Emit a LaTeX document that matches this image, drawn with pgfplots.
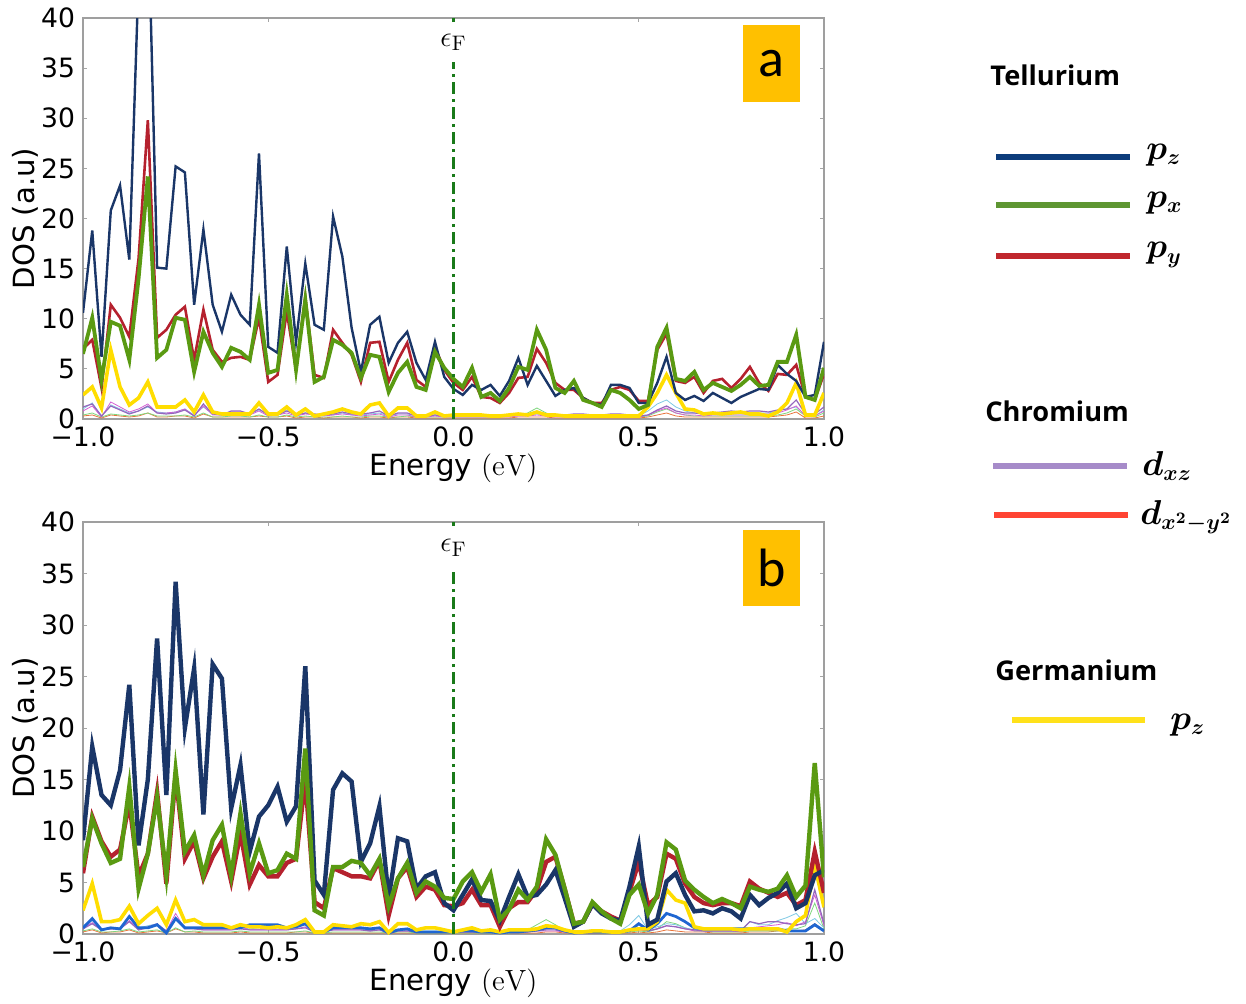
\documentclass[border=0pt]{standalone}
\usepackage{fontspec}
\usepackage{amsmath}
\usepackage{pgfplots}
\usepackage{pgfplotstable}
\pgfplotsset{compat=1.18}
\newfontfamily\dejavu{DejaVu Sans}
\newfontfamily\osans{Open Sans}
\newfontfamily\carlito{Carlito}

\definecolor{navyc}{HTML}{1A3668}
\definecolor{greenc}{HTML}{5A9A12}
\definecolor{redc}{HTML}{B5212E}
\definecolor{yellowc}{HTML}{FFDD00}
\definecolor{bluec}{HTML}{1F66D1}
\definecolor{purplec}{HTML}{9467BD}
\definecolor{lbluec}{HTML}{7EC8E3}
\definecolor{lgreenc}{HTML}{7FD67F}
\definecolor{magc}{HTML}{D45FD4}
\definecolor{orangec}{HTML}{E8743B}
\definecolor{fermic}{HTML}{1A7A1A}
\definecolor{amber}{HTML}{FFC000}
\definecolor{legnavy}{HTML}{0D3C7B}
\definecolor{leggreen}{HTML}{5E9632}
\definecolor{legred}{HTML}{C0272D}
\definecolor{legpurple}{HTML}{A68BC9}
\definecolor{legorange}{HTML}{FF4433}
\definecolor{legyellow}{HTML}{FFE11A}

\pgfplotstableread{
x n g r y p lb lg m o
-1.000 10.6 6.5 7.0 2.4 1.2 1.0 0.4 0.8 0.3
-0.975 18.8 10.1 7.9 3.2 1.5 1.6 0.6 1.3 0.4
-0.950 6.2 3.9 3.1 1.1 0.3 0.3 0.2 0.2 0.1
-0.925 20.8 9.7 11.4 6.9 1.3 1.4 0.5 1.7 0.4
-0.900 23.3 9.3 10.1 3.2 0.9 1.0 0.4 1.2 0.3
-0.875 15.9 5.9 8.2 1.4 0.5 0.6 0.3 0.7 0.2
-0.850 44.0 14.0 16.0 2.1 0.8 0.8 0.4 1.0 0.3
-0.825 52.0 24.2 29.8 3.7 1.3 1.2 0.6 1.5 0.6
-0.800 15.1 6.1 8.1 1.2 0.6 0.7 0.3 0.6 0.2
-0.775 15.0 6.9 8.9 1.2 0.5 0.6 0.3 0.6 0.2
-0.750 25.2 10.1 10.4 1.2 0.6 0.7 0.3 0.7 0.3
-0.725 24.6 9.9 11.2 1.9 0.9 1.0 0.4 1.0 0.3
-0.700 11.4 4.7 5.9 0.7 0.3 0.4 0.2 0.3 0.1
-0.675 18.9 8.7 10.9 2.4 1.5 1.2 0.6 1.3 0.5
-0.650 11.4 6.6 6.9 0.7 0.5 0.5 0.2 0.4 0.2
-0.625 8.7 5.2 5.7 0.5 0.4 0.5 0.2 0.4 0.2
-0.600 12.4 7.1 6.1 0.5 0.8 0.7 0.3 0.7 0.2
-0.575 10.4 6.7 6.2 0.5 0.8 0.6 0.3 0.7 0.2
-0.550 9.4 5.9 5.9 0.5 0.5 0.5 0.2 0.4 0.2
-0.525 26.5 11.4 10.1 1.6 1.0 0.9 0.4 0.8 0.3
-0.500 7.2 4.6 3.7 0.5 0.4 0.5 0.2 0.3 0.2
-0.475 6.6 4.9 4.4 0.5 0.4 0.5 0.2 0.4 0.2
-0.450 17.2 12.4 10.7 1.2 0.8 0.9 0.4 0.6 0.3
-0.425 7.7 4.9 4.9 0.4 0.4 0.4 0.2 0.3 0.1
-0.400 15.5 11.9 12.2 1.0 0.6 0.6 0.3 0.5 0.2
-0.375 9.4 3.7 4.4 0.3 0.5 0.4 0.2 0.4 0.2
-0.350 8.9 4.2 4.1 0.5 0.4 0.4 0.2 0.3 0.1
-0.325 20.2 7.9 8.9 0.7 0.5 0.4 0.2 0.4 0.2
-0.300 16.2 7.4 7.6 1.0 0.7 0.6 0.3 0.5 0.2
-0.275 9.1 6.6 6.4 0.7 0.5 0.4 0.2 0.4 0.2
-0.250 4.7 4.1 3.7 0.5 0.5 0.4 0.2 0.3 0.1
-0.225 9.4 6.4 7.6 1.4 0.6 0.5 0.3 0.4 0.2
-0.200 10.2 6.2 7.7 1.6 0.8 0.6 0.3 0.5 0.2
-0.175 5.6 2.7 3.7 0.3 0.3 0.3 0.2 0.2 0.1
-0.150 7.6 4.6 5.9 1.1 0.6 0.5 0.2 0.4 0.2
-0.125 8.7 5.7 7.6 1.1 0.6 0.5 0.3 0.4 0.2
-0.100 5.6 3.2 3.9 0.3 0.3 0.3 0.2 0.2 0.1
-0.075 3.9 2.9 3.2 0.3 0.3 0.3 0.2 0.2 0.1
-0.050 7.7 6.7 7.2 0.7 0.4 0.4 0.2 0.3 0.1
-0.025 4.2 5.1 4.9 0.3 0.3 0.3 0.2 0.2 0.1
0.000 3.0 4.0 3.6 0.4 0.3 0.3 0.2 0.2 0.1
0.025 2.4 3.2 2.9 0.4 0.3 0.3 0.2 0.2 0.1
0.050 3.4 5.1 4.2 0.4 0.3 0.3 0.2 0.2 0.1
0.075 2.9 2.2 2.2 0.4 0.4 0.3 0.2 0.2 0.1
0.100 3.4 2.6 2.1 0.3 0.3 0.3 0.2 0.2 0.1
0.125 2.3 1.8 1.6 0.3 0.3 0.3 0.2 0.2 0.1
0.150 3.8 3.1 2.6 0.4 0.4 0.3 0.3 0.2 0.1
0.175 6.1 5.2 4.1 0.5 0.5 0.4 0.4 0.3 0.2
0.200 3.4 4.9 4.2 0.4 0.5 0.4 0.6 0.3 0.2
0.225 5.3 8.9 7.0 0.7 0.6 0.5 1.1 0.4 0.2
0.250 3.8 6.9 5.6 0.4 0.5 0.4 0.6 0.3 0.2
0.275 2.3 3.1 3.6 0.4 0.4 0.3 0.3 0.2 0.1
0.300 2.9 2.6 2.9 0.3 0.4 0.3 0.2 0.2 0.1
0.325 3.1 3.8 2.9 0.3 0.5 0.3 0.2 0.2 0.1
0.350 2.1 1.9 2.1 0.3 0.5 0.3 0.2 0.2 0.1
0.375 1.6 1.6 1.6 0.3 0.4 0.3 0.2 0.2 0.1
0.400 1.4 1.2 1.6 0.3 0.4 0.3 0.2 0.2 0.1
0.425 3.4 2.9 2.9 0.3 0.5 0.3 0.2 0.2 0.1
0.450 3.4 2.6 3.2 0.3 0.5 0.3 0.2 0.2 0.1
0.475 3.1 1.9 2.9 0.3 0.4 0.3 0.2 0.2 0.1
0.500 1.6 1.0 1.8 0.3 0.3 0.3 0.2 0.2 0.1
0.525 1.6 1.4 1.8 1.2 0.4 0.8 0.3 0.4 0.2
0.550 3.6 7.2 6.9 2.6 0.9 1.5 0.7 0.8 0.4
0.575 6.2 9.1 8.5 4.4 1.3 1.9 1.0 1.1 0.6
0.600 2.6 4.0 3.8 2.6 0.8 1.2 0.6 0.6 0.3
0.625 1.9 3.8 3.6 1.0 0.6 0.8 0.4 0.4 0.2
0.650 2.3 4.7 4.2 0.9 0.6 0.6 0.3 0.4 0.2
0.675 1.8 2.9 2.6 0.5 0.5 0.5 0.3 0.3 0.2
0.700 2.6 3.6 3.8 0.6 0.6 0.5 0.3 0.4 0.2
0.725 2.1 3.2 4.0 0.5 0.7 0.5 0.3 0.4 0.2
0.750 1.6 2.8 3.1 0.6 0.8 0.5 0.3 0.4 0.2
0.775 2.2 3.4 4.0 0.7 0.7 0.5 0.3 0.4 0.2
0.800 2.6 4.2 5.2 0.5 0.8 0.5 0.3 0.4 0.2
0.825 3.0 3.3 3.6 0.5 0.8 0.6 0.3 0.5 0.2
0.850 2.9 3.4 2.8 0.3 0.7 0.6 0.3 0.5 0.2
0.875 5.4 5.7 4.5 0.7 0.9 0.8 0.4 0.6 0.3
0.900 4.5 5.7 4.4 1.6 1.0 1.0 0.6 0.9 0.4
0.925 3.8 8.4 5.4 3.6 1.9 1.2 1.0 1.3 0.7
0.950 2.2 2.2 2.2 0.4 0.5 0.4 0.3 0.3 0.1
0.975 2.4 1.9 1.9 0.4 0.5 0.3 0.2 0.3 0.1
1.000 7.7 5.1 4.5 2.6 1.2 0.9 0.6 0.8 0.3
}\toptab

\pgfplotstableread{
x n g r y b p lb lg m o
-1.000 9.1 6.5 5.9 2.3 0.6 0.5 0.8 0.3 0.6 0.2
-0.975 18.2 11.2 11.4 4.9 1.5 1.0 1.3 0.5 1.1 0.4
-0.950 13.5 8.8 9.0 1.2 0.4 0.4 0.5 0.2 0.4 0.1
-0.925 12.5 6.9 7.5 1.2 0.6 0.5 0.6 0.2 0.5 0.2
-0.900 15.9 7.3 8.2 1.4 0.5 0.5 0.6 0.3 0.5 0.2
-0.875 24.2 14.3 12.7 2.7 1.7 1.2 1.8 0.5 1.3 0.4
-0.850 8.6 4.4 5.6 1.0 0.6 0.4 0.6 0.2 0.4 0.1
-0.825 15.0 7.8 7.8 1.8 0.6 0.6 0.8 0.3 0.7 0.2
-0.800 28.7 13.3 13.8 2.5 0.9 0.9 1.0 0.4 1.0 0.3
-0.775 13.5 5.7 4.9 0.9 0.1 0.3 0.3 0.1 0.3 0.1
-0.750 34.2 15.9 15.4 3.3 1.5 1.6 1.4 0.6 2.0 0.5
-0.725 20.0 8.0 7.3 1.2 0.6 0.5 0.6 0.2 0.5 0.2
-0.700 25.8 9.6 9.0 1.4 0.6 0.5 0.6 0.3 0.6 0.2
-0.675 11.6 5.7 5.4 0.9 0.6 0.4 0.5 0.2 0.4 0.1
-0.650 26.2 9.1 7.5 0.9 0.6 0.4 0.5 0.2 0.4 0.1
-0.625 24.8 10.6 9.0 0.9 0.6 0.4 0.5 0.2 0.4 0.1
-0.600 12.2 5.7 5.1 0.6 0.6 0.4 0.5 0.2 0.4 0.1
-0.575 16.4 11.7 9.8 0.9 0.6 0.5 0.6 0.3 0.7 0.2
-0.550 8.0 5.9 4.8 0.7 0.9 0.4 0.5 0.2 0.4 0.1
-0.525 11.4 8.8 6.7 0.7 0.9 0.4 0.6 0.2 0.4 0.1
-0.500 12.5 5.9 5.6 0.6 0.9 0.4 0.6 0.2 0.4 0.1
-0.475 14.3 6.2 5.6 0.7 0.9 0.4 0.6 0.2 0.4 0.1
-0.450 10.9 7.8 6.9 0.6 0.6 0.4 0.5 0.2 0.4 0.1
-0.425 12.4 7.3 7.3 0.9 0.7 0.5 0.6 0.2 0.5 0.2
-0.400 26.0 18.0 15.0 1.4 1.0 0.6 0.9 0.3 0.7 0.2
-0.375 5.2 2.3 3.1 0.2 0.2 0.2 0.2 0.1 0.2 0.1
-0.350 3.8 1.8 2.5 0.2 0.2 0.2 0.2 0.1 0.2 0.1
-0.325 14.0 6.5 6.4 0.9 0.6 0.4 0.5 0.2 0.4 0.1
-0.300 15.6 6.5 6.0 0.8 0.6 0.4 0.5 0.2 0.4 0.1
-0.275 14.8 7.1 5.6 0.7 0.6 0.4 0.5 0.2 0.4 0.1
-0.250 7.0 6.9 5.6 1.0 0.6 0.4 0.5 0.2 0.4 0.1
-0.225 8.8 5.7 5.4 0.9 0.5 0.3 0.4 0.2 0.3 0.1
-0.200 12.4 7.3 7.1 1.2 0.6 0.4 0.6 0.2 0.4 0.1
-0.175 3.5 2.7 1.8 0.15 0.1 0.1 0.2 0.1 0.1 0.1
-0.150 9.3 5.4 5.4 1.0 0.4 0.3 0.4 0.2 0.3 0.1
-0.125 9.0 6.9 6.5 1.0 0.5 0.3 0.4 0.2 0.3 0.1
-0.100 4.4 4.0 3.6 0.4 0.2 0.2 0.3 0.1 0.2 0.1
-0.075 5.6 5.1 4.6 0.6 0.2 0.2 0.3 0.1 0.2 0.1
-0.050 6.0 4.6 4.3 0.6 0.2 0.2 0.3 0.1 0.2 0.1
-0.025 3.0 3.5 2.8 0.4 0.2 0.2 0.2 0.1 0.2 0.1
0.000 2.3 3.4 2.7 0.2 0.2 0.2 0.2 0.1 0.2 0.1
0.025 3.8 5.1 3.0 0.4 0.3 0.2 0.2 0.1 0.2 0.1
0.050 5.3 6.0 4.3 0.6 0.3 0.2 0.3 0.1 0.2 0.1
0.075 3.3 4.1 2.8 0.3 0.2 0.2 0.2 0.1 0.2 0.1
0.100 3.2 5.8 2.8 0.4 0.2 0.2 0.2 0.1 0.2 0.1
0.125 1.3 1.4 0.7 0.2 0.1 0.1 0.1 0.1 0.1 0.1
0.150 3.6 2.4 2.5 0.4 0.2 0.2 0.2 0.1 0.2 0.1
0.175 5.8 4.3 3.1 0.4 0.2 0.2 0.3 0.2 0.2 0.1
0.200 3.6 3.3 3.1 0.4 0.3 0.2 0.3 0.4 0.2 0.1
0.225 3.8 4.6 4.3 0.5 0.4 0.3 0.4 0.9 0.3 0.1
0.250 4.8 9.2 7.0 0.8 0.6 0.4 0.5 1.4 0.3 0.2
0.275 6.2 7.7 7.5 0.7 0.6 0.4 0.5 0.9 0.3 0.2
0.300 3.5 4.4 4.4 0.4 0.3 0.2 0.3 0.3 0.2 0.1
0.325 0.7 1.0 1.0 0.2 0.1 0.1 0.1 0.1 0.1 0.1
0.350 1.2 1.2 1.2 0.2 0.2 0.2 0.2 0.1 0.2 0.1
0.375 2.9 3.1 2.9 0.3 0.2 0.4 0.3 0.2 0.3 0.1
0.400 2.0 2.2 2.2 0.3 0.2 0.3 0.2 0.1 0.2 0.1
0.425 1.5 1.5 1.7 0.2 0.2 0.2 0.2 0.1 0.2 0.1
0.450 1.3 1.0 1.3 0.2 0.2 0.2 0.3 0.1 0.2 0.1
0.475 4.6 3.8 4.1 0.4 0.3 0.3 0.9 0.2 0.3 0.1
0.500 8.5 4.8 7.0 0.5 1.0 0.5 1.8 0.3 0.4 0.2
0.525 0.9 2.0 2.8 0.5 0.4 0.3 0.4 0.2 0.3 0.1
0.550 1.4 3.8 3.6 1.2 1.0 0.5 0.7 0.5 0.5 0.2
0.575 5.1 8.9 7.8 4.3 2.0 0.8 1.0 1.2 0.8 0.4
0.600 5.9 8.2 7.3 3.3 1.7 0.7 0.9 1.0 0.7 0.3
0.625 3.8 5.2 4.9 3.0 1.2 0.5 0.6 0.6 0.5 0.2
0.650 2.2 4.3 3.6 0.7 0.6 0.4 0.4 0.3 0.3 0.2
0.675 2.3 3.6 3.0 0.5 0.5 0.3 0.4 0.3 0.3 0.2
0.700 2.0 3.0 2.8 0.5 0.5 0.3 0.4 0.2 0.3 0.1
0.725 2.5 3.4 3.0 0.5 0.5 0.3 0.4 0.2 0.3 0.1
0.750 2.2 3.0 3.0 0.5 0.5 0.3 0.4 0.2 0.3 0.1
0.775 1.5 2.5 2.7 0.4 0.5 0.3 0.3 0.2 0.2 0.1
0.800 3.8 4.6 5.1 0.5 0.5 1.2 1.2 0.3 0.6 0.2
0.825 2.8 4.3 4.4 0.5 0.5 1.0 0.9 0.3 0.7 0.2
0.850 3.5 4.1 4.0 0.5 0.5 1.2 0.9 0.3 0.8 0.2
0.875 4.0 4.4 3.6 0.5 0.5 1.2 1.3 0.3 0.9 0.3
0.900 4.9 5.7 4.0 0.2 0.3 1.0 1.6 0.5 1.1 0.3
0.925 2.5 3.6 2.8 1.2 0.3 0.9 2.0 0.5 0.8 0.3
0.950 3.0 4.7 3.3 1.8 0.3 1.0 1.0 0.8 1.2 0.4
0.975 5.7 16.6 8.0 6.7 0.9 4.3 1.5 3.0 3.8 1.0
1.000 6.2 5.5 4.0 2.6 0.3 1.0 0.6 0.5 0.8 0.3
}\bottab

\pgfplotsset{
  dosaxis/.style={
    anchor=south west, scale only axis,
    width=370.5pt,
    xmin=-1, xmax=1, ymin=0, ymax=40,
    xtick={-1,-0.5,0,0.5,1},
    xticklabels={−1.0,−0.5,0.0,0.5,1.0},
    ytick={0,5,10,15,20,25,30,35,40},
    yticklabels={0,5,10,15,20,25,30,35,40},
    tick align=inside,
    major tick length=2.2pt,
    tick style={draw=gray!70, line width=0.5pt},
    axis line style={draw=gray!75, line width=0.7pt},
    ticklabel style={font=\dejavu\fontsize{13.3}{13.3}\selectfont},
    xticklabel style={yshift=-0.5pt},
    yticklabel style={xshift=-0.5pt},
    xlabel={Energy $(\mathrm{eV})$},
    ylabel={DOS (a.u)},
    label style={font=\dejavu\fontsize{14.6}{15}\selectfont},
    xlabel style={at={(axis description cs:0.5,0)}, anchor=center, yshift=-24.5pt},
    ylabel style={at={([xshift=-29pt]axis description cs:0,0.5)}, anchor=center},
    clip=true,
  },
  thin/.style={line width=0.4pt},
  fermi/.style={color=fermic, line width=1.5pt, dash pattern=on 6pt off 2.5pt on 1.5pt off 2.5pt},
}

\begin{document}
\begin{tikzpicture}
\path[use as bounding box] (0,0) rectangle (623pt,501.5pt);

% ---------- panel a ----------
\begin{axis}[dosaxis, at={(41.5pt,292pt)}, height=200.5pt]
\addplot[thin, orangec] table[x=x,y=o] {\toptab};
\addplot[thin, lgreenc] table[x=x,y=lg] {\toptab};
\addplot[thin, lbluec] table[x=x,y=lb] {\toptab};
\addplot[thin, magc] table[x=x,y=m] {\toptab};
\addplot[thin, purplec, line width=0.6pt] table[x=x,y=p] {\toptab};
\addplot[yellowc, line width=1.8pt] table[x=x,y=y] {\toptab};
\addplot[redc, line width=1.3pt] table[x=x,y=r] {\toptab};
\addplot[navyc, line width=1.2pt] table[x=x,y=n] {\toptab};
\addplot[greenc, line width=1.9pt] table[x=x,y=g] {\toptab};
\addplot[fermi] coordinates {(0,0) (0,35.6)};
\addplot[fermi] coordinates {(0,39.6) (0,40)};
\node[font=\fontsize{15}{15}\selectfont] at (axis cs:0,37.6) {$\epsilon_{\mathrm{F}}$};
\node[fill=amber, minimum width=28.5pt, minimum height=38.5pt, inner sep=0pt,
      font=\carlito\fontsize{27}{27}\selectfont] at (axis cs:0.858,35.45) {a};
\end{axis}

% ---------- panel b ----------
\begin{axis}[dosaxis, at={(41.5pt,34.5pt)}, height=206pt]
\addplot[thin, orangec] table[x=x,y=o] {\bottab};
\addplot[thin, lgreenc] table[x=x,y=lg] {\bottab};
\addplot[thin, lbluec] table[x=x,y=lb] {\bottab};
\addplot[thin, magc] table[x=x,y=m] {\bottab};
\addplot[thin, purplec, line width=0.6pt] table[x=x,y=p] {\bottab};
\addplot[bluec, line width=1.4pt] table[x=x,y=b] {\bottab};
\addplot[yellowc, line width=1.8pt] table[x=x,y=y] {\bottab};
\addplot[redc, line width=2.2pt] table[x=x,y=r] {\bottab};
\addplot[navyc, line width=2.2pt] table[x=x,y=n] {\bottab};
\addplot[greenc, line width=2.2pt] table[x=x,y=g] {\bottab};
\addplot[fermi] coordinates {(0,0) (0,35.3)};
\addplot[fermi] coordinates {(0,39.6) (0,40)};
\node[font=\fontsize{15}{15}\selectfont] at (axis cs:0,37.5) {$\epsilon_{\mathrm{F}}$};
\node[fill=amber, minimum width=28.5pt, minimum height=38pt, inner sep=0pt,
      font=\carlito\fontsize{27}{27}\selectfont] at (axis cs:0.858,35.5) {b};
\end{axis}

% ---------- legend ----------
\node[anchor=west, inner sep=0pt, font=\osans\bfseries\fontsize{13.6}{14}\selectfont] at (495pt,464pt) {Tellurium};
\draw[legnavy, line width=2.8pt] (498pt,423pt) -- (565pt,423pt);
\node[anchor=west, inner sep=0pt, font=\fontsize{16}{16}\selectfont] at (573pt,424pt) {$\boldsymbol{p_z}$};
\draw[leggreen, line width=2.8pt] (498pt,399pt) -- (565pt,399pt);
\node[anchor=west, inner sep=0pt, font=\fontsize{16}{16}\selectfont] at (573pt,400pt) {$\boldsymbol{p_x}$};
\draw[legred, line width=2.8pt] (498pt,373.5pt) -- (565pt,373.5pt);
\node[anchor=west, inner sep=0pt, font=\fontsize{16}{16}\selectfont] at (573pt,374pt) {$\boldsymbol{p_y}$};

\node[anchor=west, inner sep=0pt, font=\osans\bfseries\fontsize{13.6}{14}\selectfont] at (492.5pt,296pt) {Chromium};
\draw[legpurple, line width=2.8pt] (496.5pt,268.5pt) -- (563.5pt,268.5pt);
\node[anchor=west, inner sep=0pt, font=\fontsize{16}{16}\selectfont] at (571pt,268.5pt) {$\boldsymbol{d_{xz}}$};
\draw[legorange, line width=2.8pt] (497pt,244pt) -- (564pt,244pt);
\node[anchor=west, inner sep=0pt, font=\fontsize{16}{16}\selectfont] at (570pt,243pt) {$\boldsymbol{d_{x^2-y^2}}$};

\node[anchor=west, inner sep=0pt, font=\osans\bfseries\fontsize{13.6}{14}\selectfont] at (497.5pt,166.5pt) {Germanium};
\draw[legyellow, line width=2.8pt] (506pt,141.5pt) -- (572.5pt,141.5pt);
\node[anchor=west, inner sep=0pt, font=\fontsize{16}{16}\selectfont] at (585pt,139pt) {$\boldsymbol{p_z}$};
\end{tikzpicture}
\end{document}
